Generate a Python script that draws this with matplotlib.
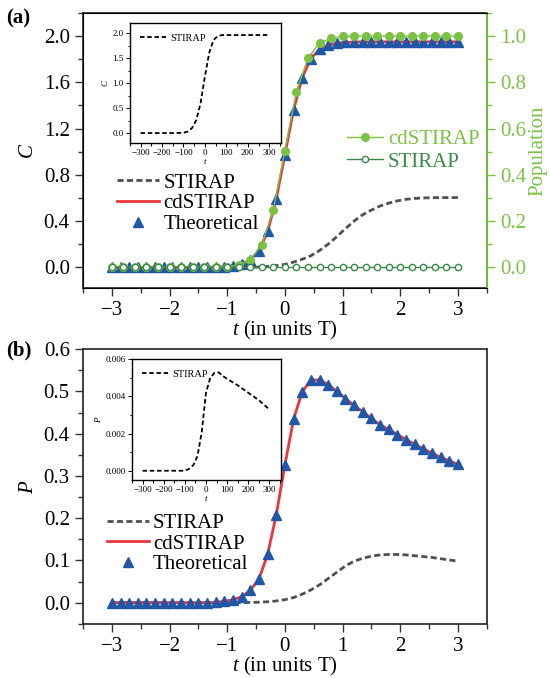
import matplotlib
matplotlib.use("Agg")
import matplotlib.pyplot as plt
from matplotlib.ticker import MultipleLocator, FormatStrFormatter

plt.rcParams['font.family'] = ['Liberation Serif', 'DejaVu Serif']
plt.rcParams['mathtext.fontset'] = 'custom'
plt.rcParams['mathtext.rm'] = 'Liberation Serif'
plt.rcParams['mathtext.it'] = 'Liberation Serif:italic'

# time grid of the theoretical triangles / lines (units of T)
t_fine = [-3.0, -2.85, -2.7, -2.55, -2.4, -2.25, -2.1, -1.95, -1.8, -1.65, -1.5,
          -1.35, -1.2, -1.05, -0.9, -0.75, -0.6, -0.45, -0.3, -0.15, 0.0,
          0.15, 0.3, 0.45, 0.6, 0.75, 0.9, 1.05, 1.2, 1.35, 1.5,
          1.65, 1.8, 1.95, 2.1, 2.25, 2.4, 2.55, 2.7, 2.85, 3.0]

# panel (a): concurrence C
C_cd = [0.0, 0.0, 0.0, 0.0, 0.0, 0.0, 0.0, 0.0, 0.0, 0.0, 0.0,
        0.001, 0.002, 0.005, 0.012, 0.03, 0.065, 0.145, 0.31, 0.59, 0.975,
        1.36, 1.64, 1.805, 1.885, 1.92, 1.938, 1.945, 1.948, 1.95, 1.95,
        1.95, 1.95, 1.95, 1.95, 1.95, 1.95, 1.95, 1.95, 1.95, 1.95]
C_stirap = [0.0, 0.0, 0.0, 0.0, 0.0, 0.0, 0.0, 0.0, 0.0, 0.0, 0.0,
            0.0, 0.0, 0.001, 0.001, 0.002, 0.002, 0.003, 0.007, 0.015, 0.025,
            0.045, 0.07, 0.10, 0.145, 0.20, 0.265, 0.335, 0.40, 0.455, 0.495,
            0.53, 0.555, 0.575, 0.588, 0.596, 0.60, 0.602, 0.603, 0.603, 0.603]

# populations (right axis), sampled every 0.2 T
t_pop = [-3.0, -2.8, -2.6, -2.4, -2.2, -2.0, -1.8, -1.6, -1.4, -1.2, -1.0,
         -0.8, -0.6, -0.4, -0.2, 0.0, 0.2, 0.4, 0.6, 0.8, 1.0,
         1.2, 1.4, 1.6, 1.8, 2.0, 2.2, 2.4, 2.6, 2.8, 3.0]
pop_cd = [0.0, 0.0, 0.0, 0.0, 0.0, 0.0, 0.0, 0.0, 0.0, 0.001, 0.003,
          0.01, 0.032, 0.098, 0.25, 0.505, 0.76, 0.905, 0.97, 0.99, 0.998,
          1.0, 1.0, 1.0, 1.0, 1.0, 1.0, 1.0, 1.0, 1.0, 1.0]
pop_stirap = [0.0, 0.0, 0.0, 0.0, 0.0, 0.0, 0.0, 0.0, 0.0, 0.0, 0.0,
              0.0, 0.0, 0.0, 0.0, 0.0, 0.0, 0.0, 0.0, 0.0, 0.0,
              0.0, 0.0, 0.0, 0.0, 0.0, 0.0, 0.0, 0.0, 0.0, 0.0]

# panel (b): P
P_cd = [0.0, 0.0, 0.0, 0.0, 0.0, 0.0, 0.0, 0.0, 0.0, 0.0, 0.0,
        0.0, 0.001, 0.003, 0.007, 0.014, 0.029, 0.056, 0.114, 0.208, 0.326,
        0.434, 0.499, 0.527, 0.527, 0.516, 0.50, 0.483, 0.467, 0.452, 0.436,
        0.421, 0.41, 0.398, 0.386, 0.375, 0.364, 0.354, 0.344, 0.336, 0.327]
P_stirap = [0.0, 0.0, 0.0, 0.0, 0.0, 0.0, 0.0, 0.0, 0.0, 0.0, 0.0,
            0.0, 0.0, 0.0, 0.0, 0.0, 0.0005, 0.001, 0.002, 0.004, 0.007,
            0.012, 0.02, 0.03, 0.042, 0.057, 0.072, 0.087, 0.098, 0.105, 0.11,
            0.113, 0.114, 0.114, 0.113, 0.111, 0.109, 0.107, 0.104, 0.101, 0.098]

# insets: STIRAP on its own time scale
t_ins = [-300, -250, -200, -150, -100, -80, -60, -40, -20, 0,
         20, 40, 60, 80, 100, 150, 200, 250, 300]
C_ins = [0.0, 0.0, 0.0, 0.0, 0.005, 0.03, 0.1, 0.26, 0.6, 1.13,
         1.6, 1.86, 1.94, 1.96, 1.96, 1.96, 1.96, 1.96, 1.96]
P_ins = [0.0, 0.0, 0.0, 0.0, 0.0, 0.0001, 0.0003, 0.0008, 0.0021, 0.0042,
         0.0050, 0.00528, 0.0053, 0.0051, 0.00495, 0.0046, 0.0042, 0.0038, 0.0033]

red = '#e8383d'
blue = '#2256a6'
grey = '#505050'
lgreen = '#7cc242'
dgreen = '#3a8a47'
frame = '#333333'
fs = 15


def style_main(ax):
    for s in ax.spines.values():
        s.set_color(frame)
        s.set_linewidth(1.3)
    ax.tick_params(which='both', direction='out', top=False, right=False,
                   labelsize=fs, color=frame, width=1.0)
    ax.tick_params(which='major', length=6)
    ax.tick_params(which='minor', length=3.5)
    ax.set_xlim(-3.5, 3.5)
    ax.xaxis.set_major_locator(MultipleLocator(1))
    ax.xaxis.set_minor_locator(MultipleLocator(0.5))
    ax.set_xlabel(r'$t$ (in units T)', fontsize=fs, labelpad=-1)


def style_inset(ax):
    for s in ax.spines.values():
        s.set_color('black')
        s.set_linewidth(1.0)
    ax.tick_params(which='both', direction='out', top=False, right=False,
                   labelsize=6.5, width=0.7, pad=1.5)
    ax.tick_params(which='major', length=3)
    ax.tick_params(which='minor', length=1.8)
    ax.set_xlim(-350, 355)
    ax.xaxis.set_major_locator(MultipleLocator(100))
    ax.xaxis.set_minor_locator(MultipleLocator(50))
    ax.set_xlabel(r'$t$', fontsize=6.5, labelpad=0)


fig = plt.figure(figsize=(5.5, 6.78), dpi=100)

# ---------- panel (a) ----------
ax = fig.add_axes([0.151, 0.575, 0.734, 0.406])
style_main(ax)
ax.plot(t_fine, C_stirap, color=grey, lw=2.0, ls=(0, (2.2, 1.2)), label='STIRAP')
ax.plot(t_fine, C_cd, color=red, lw=2.0, label='cdSTIRAP')
ax.plot(t_fine, C_cd, ls='none', marker='^', ms=6.5, color=blue, label='Theoretical')
ax.set_ylim(-0.18, 2.2)
ax.yaxis.set_major_locator(MultipleLocator(0.4))
ax.yaxis.set_minor_locator(MultipleLocator(0.2))
ax.yaxis.set_major_formatter(FormatStrFormatter('%.1f'))
ax.set_ylabel(r'$C$', fontsize=fs, labelpad=4)
ax.legend(loc='upper left', bbox_to_anchor=(0.085, 0.418), frameon=False, fontsize=fs,
          handlelength=2.0, handletextpad=0.2, labelspacing=0.05, borderpad=0,
          borderaxespad=0)

ax2 = ax.twinx()
ax2.plot(t_pop, pop_cd, color=lgreen, lw=1.0, marker='o', ms=5.5, label='cdSTIRAP')
ax2.plot(t_pop, pop_stirap, color=dgreen, lw=1.0, marker='o', ms=4.5, mfc='white',
         mec=dgreen, mew=1.0, label='STIRAP')
ax2.set_ylim(-0.09, 1.1)
ax2.yaxis.set_major_locator(MultipleLocator(0.2))
ax2.yaxis.set_minor_locator(MultipleLocator(0.1))
ax2.yaxis.set_major_formatter(FormatStrFormatter('%.1f'))
ax2.spines['right'].set_color(lgreen)
ax2.spines['right'].set_linewidth(1.3)
ax2.tick_params(which='both', direction='out', colors=lgreen, labelsize=fs, width=1.0)
ax2.tick_params(which='major', length=6)
ax2.tick_params(which='minor', length=3.5)
ax2.set_ylabel('Population', fontsize=fs, color=lgreen, labelpad=2)
leg2 = ax2.legend(loc='upper left', bbox_to_anchor=(0.655, 0.575), frameon=False,
                  fontsize=fs, handlelength=1.7, handletextpad=0.25,
                  labelspacing=0.12, borderpad=0, borderaxespad=0)
leg2.get_texts()[0].set_color(lgreen)
leg2.get_texts()[1].set_color(dgreen)

ins = fig.add_axes([0.236, 0.789, 0.275, 0.177])
style_inset(ins)
ins.plot(t_ins, C_ins, color='black', lw=1.3, ls=(0, (2.5, 1.5)), label='STIRAP')
ins.set_ylim(-0.2, 2.2)
ins.yaxis.set_major_locator(MultipleLocator(0.5))
ins.yaxis.set_minor_locator(MultipleLocator(0.25))
ins.yaxis.set_major_formatter(FormatStrFormatter('%.1f'))
ins.set_ylabel(r'$C$', fontsize=6.5, labelpad=2)
ins.legend(loc='upper left', frameon=False, fontsize=7.5, handlelength=2.5,
           handletextpad=0.4, borderaxespad=0.6)

# ---------- panel (b) ----------
bx = fig.add_axes([0.151, 0.080, 0.734, 0.405])
style_main(bx)
bx.plot(t_fine, P_stirap, color=grey, lw=2.0, ls=(0, (2.2, 1.2)), label='STIRAP')
bx.plot(t_fine, P_cd, color=red, lw=2.0, label='cdSTIRAP')
bx.plot(t_fine, P_cd, ls='none', marker='^', ms=6.5, color=blue, label='Theoretical')
bx.set_ylim(-0.05, 0.6)
bx.yaxis.set_major_locator(MultipleLocator(0.1))
bx.yaxis.set_minor_locator(MultipleLocator(0.05))
bx.yaxis.set_major_formatter(FormatStrFormatter('%.1f'))
bx.set_ylabel(r'$P$', fontsize=fs, labelpad=4)
bx.legend(loc='upper left', bbox_to_anchor=(0.06, 0.402), frameon=False, fontsize=fs,
          handlelength=2.0, handletextpad=0.2, labelspacing=0.05, borderpad=0,
          borderaxespad=0)

ins2 = fig.add_axes([0.240, 0.292, 0.271, 0.178])
style_inset(ins2)
ins2.plot(t_ins, P_ins, color='black', lw=1.3, ls=(0, (2.5, 1.5)), label='STIRAP')
ins2.set_ylim(-0.0005, 0.006)
ins2.yaxis.set_major_locator(MultipleLocator(0.002))
ins2.yaxis.set_minor_locator(MultipleLocator(0.001))
ins2.yaxis.set_major_formatter(FormatStrFormatter('%.3f'))
ins2.set_ylabel(r'$P$', fontsize=6.5, labelpad=2)
ins2.legend(loc='upper left', frameon=False, fontsize=7.5, handlelength=2.5,
            handletextpad=0.4, borderaxespad=0.6)

fig.text(0.012, 0.965, '(a)', fontsize=15, fontweight='bold')
fig.text(0.012, 0.476, '(b)', fontsize=15, fontweight='bold')

fig.savefig('out.png', dpi=100)
